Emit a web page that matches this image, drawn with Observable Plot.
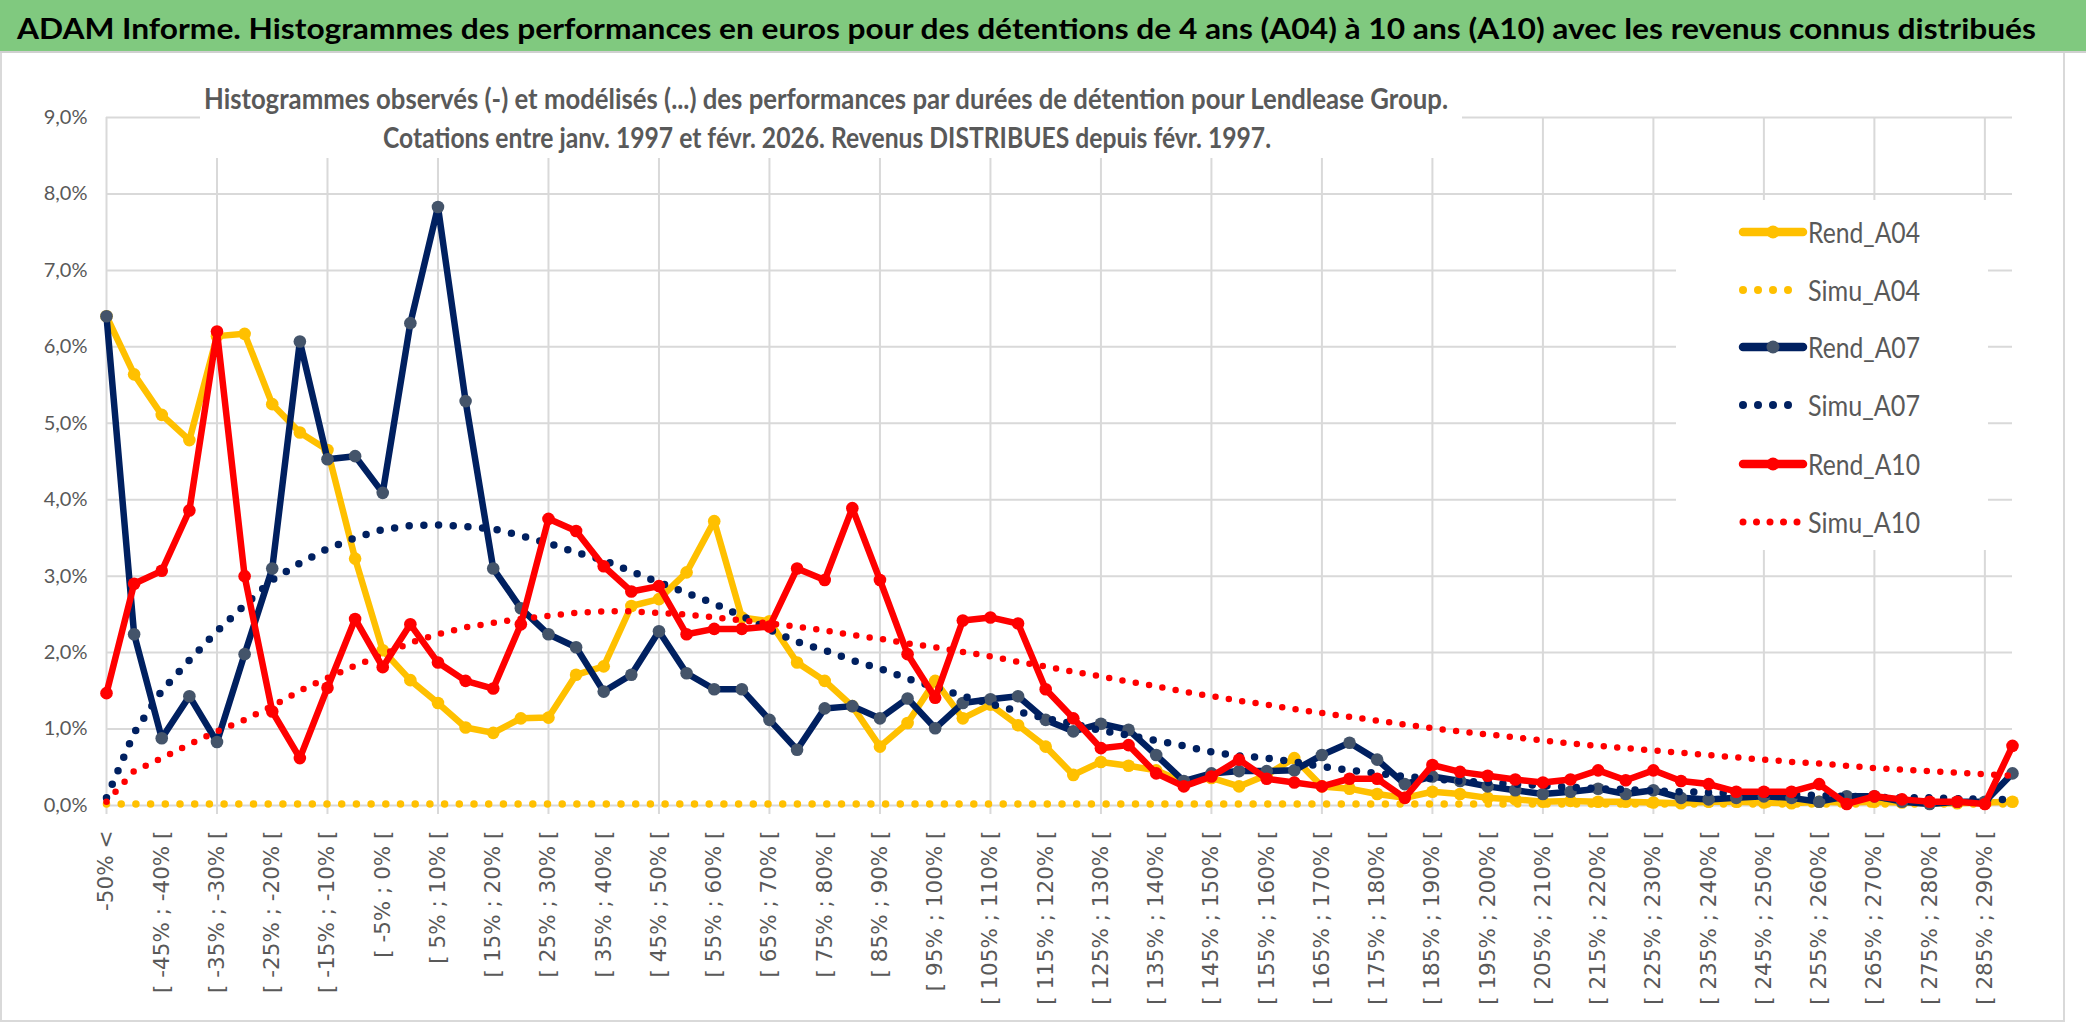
<!DOCTYPE html>
<html><head><meta charset="utf-8">
<script src="https://cdn.jsdelivr.net/npm/d3@7"></script>
<script src="https://cdn.jsdelivr.net/npm/@observablehq/plot@0.6"></script>
<style>
html,body{margin:0;padding:0;background:#fff;}
#wrap{position:relative;width:2086px;height:1031px;overflow:hidden;background:#fff;}
#wrap svg.plot{position:absolute;left:0;top:0;}
.box{position:absolute;background:#fff;}
</style></head>
<body><div id="wrap"></div>
<script>
const categories = ["-50% <","[ -50% ; -45% [","[ -45% ; -40% [","[ -40% ; -35% [","[ -35% ; -30% [","[ -30% ; -25% [","[ -25% ; -20% [","[ -20% ; -15% [","[ -15% ; -10% [","[ -10% ; -5% [",
"[ -5% ; 0% [","[ 0% ; 5% [","[ 5% ; 10% [","[ 10% ; 15% [","[ 15% ; 20% [","[ 20% ; 25% [","[ 25% ; 30% [","[ 30% ; 35% [","[ 35% ; 40% [","[ 40% ; 45% [",
"[ 45% ; 50% [","[ 50% ; 55% [","[ 55% ; 60% [","[ 60% ; 65% [","[ 65% ; 70% [","[ 70% ; 75% [","[ 75% ; 80% [","[ 80% ; 85% [","[ 85% ; 90% [","[ 90% ; 95% [",
"[ 95% ; 100% [","[ 100% ; 105% [","[ 105% ; 110% [","[ 110% ; 115% [","[ 115% ; 120% [","[ 120% ; 125% [","[ 125% ; 130% [","[ 130% ; 135% [","[ 135% ; 140% [","[ 140% ; 145% [",
"[ 145% ; 150% [","[ 150% ; 155% [","[ 155% ; 160% [","[ 160% ; 165% [","[ 165% ; 170% [","[ 170% ; 175% [","[ 175% ; 180% [","[ 180% ; 185% [","[ 185% ; 190% [","[ 190% ; 195% [",
"[ 195% ; 200% [","[ 200% ; 205% [","[ 205% ; 210% [","[ 210% ; 215% [","[ 215% ; 220% [","[ 220% ; 225% [","[ 225% ; 230% [","[ 230% ; 235% [","[ 235% ; 240% [","[ 240% ; 245% [",
"[ 245% ; 250% [","[ 250% ; 255% [","[ 255% ; 260% [","[ 260% ; 265% [","[ 265% ; 270% [","[ 270% ; 275% [","[ 275% ; 280% [","[ 280% ; 285% [","[ 285% ; 290% [","> 290%"];

const rendA04 = [6.40,5.64,5.11,4.78,6.14,6.17,5.25,4.88,4.65,3.23, 2.03,1.64,1.34,1.02,0.95,1.14,1.15,1.71,1.82,2.61,
 2.70,3.05,3.72,2.46,2.41,1.87,1.63,1.30,0.77,1.08, 1.63,1.14,1.32,1.05,0.77,0.40,0.57,0.52,0.46,0.30,
 0.36,0.25,0.40,0.62,0.25,0.22,0.15,0.10,0.18,0.15, 0.10,0.08,0.05,0.06,0.05,0.05,0.04,0.03,0.05,0.05,
 0.04,0.03,0.05,0.04,0.05,0.04,0.03,0.03,0.04,0.05];
const simuA04 = [0.02,0.02,0.02,0.02,0.02,0.02,0.02,0.02,0.02,0.02, 0.02,0.02,0.02,0.02,0.02,0.02,0.02,0.02,0.02,0.02,
 0.02,0.02,0.02,0.02,0.02,0.02,0.02,0.02,0.02,0.02, 0.02,0.02,0.02,0.02,0.02,0.02,0.02,0.02,0.02,0.02,
 0.02,0.02,0.02,0.02,0.02,0.02,0.02,0.02,0.02,0.02, 0.02,0.02,0.02,0.02,0.02,0.02,0.02,0.02,0.02,0.02,
 0.02,0.02,0.02,0.02,0.02,0.02,0.02,0.02,0.02,0.02];
const rendA07 = [6.40,2.24,0.88,1.43,0.83,1.98,3.10,6.07,4.53,4.57, 4.09,6.31,7.83,5.29,3.10,2.58,2.24,2.07,1.49,1.71,
 2.28,1.73,1.52,1.52,1.12,0.73,1.27,1.30,1.14,1.40, 1.01,1.34,1.39,1.43,1.12,0.97,1.07,0.99,0.66,0.32,
 0.42,0.45,0.45,0.46,0.66,0.82,0.60,0.28,0.38,0.32, 0.25,0.20,0.15,0.18,0.22,0.15,0.20,0.10,0.08,0.10,
 0.12,0.10,0.05,0.12,0.12,0.05,0.02,0.05,0.05,0.42];
const simuA07 = [0.10,0.95,1.50,1.90,2.28,2.62,2.95,3.17,3.36,3.50, 3.61,3.66,3.67,3.65,3.62,3.53,3.43,3.31,3.21,3.06,
 2.92,2.78,2.64,2.48,2.30,2.14,2.03,1.90,1.79,1.66, 1.55,1.43,1.33,1.23,1.14,1.07,0.98,0.92,0.85,0.78,
 0.70,0.65,0.62,0.57,0.51,0.46,0.42,0.38,0.35,0.32, 0.30,0.28,0.26,0.24,0.22,0.21,0.19,0.18,0.17,0.16,
 0.15,0.14,0.13,0.12,0.11,0.10,0.10,0.09,0.08,0.08];
const rendA10 = [1.47,2.90,3.07,3.86,6.20,3.00,1.23,0.62,1.54,2.44, 1.81,2.37,1.87,1.63,1.53,2.37,3.75,3.59,3.13,2.80,
 2.87,2.24,2.31,2.31,2.34,3.10,2.95,3.89,2.95,1.98, 1.41,2.42,2.46,2.38,1.52,1.14,0.75,0.79,0.42,0.25,
 0.38,0.60,0.35,0.30,0.25,0.35,0.35,0.10,0.53,0.44, 0.39,0.34,0.30,0.34,0.46,0.33,0.46,0.32,0.28,0.18,
 0.18,0.18,0.28,0.02,0.12,0.08,0.05,0.05,0.02,0.78];
const simuA10 = [0.05,0.45,0.62,0.80,0.97,1.12,1.30,1.50,1.67,1.83, 1.97,2.13,2.24,2.33,2.39,2.44,2.48,2.52,2.54,2.54,
 2.52,2.50,2.46,2.42,2.38,2.34,2.29,2.23,2.18,2.12, 2.07,2.01,1.95,1.88,1.82,1.75,1.69,1.62,1.56,1.49,
 1.43,1.37,1.32,1.26,1.21,1.16,1.11,1.06,1.01,0.97, 0.93,0.89,0.85,0.81,0.78,0.75,0.72,0.69,0.66,0.63,
 0.60,0.57,0.55,0.52,0.49,0.47,0.45,0.43,0.41,0.39];

const yTicks = [0,1,2,3,4,5,6,7,8,9];
const seriesNames = ["Rend_A04","Simu_A04","Rend_A07","Simu_A07","Rend_A10","Simu_A10"];
const titleText = "ADAM Informe. Histogrammes des performances en euros pour des détentions de 4 ans (A04) à 10 ans (A10) avec les revenus connus distribués";
const subtitle1 = "Histogrammes observés (-) et modélisés (...) des performances par durées de détention pour Lendlease Group.";
const subtitle2 = "Cotations entre janv. 1997 et févr. 2026. Revenus DISTRIBUES depuis févr. 1997.";

const YELLOW = "#FFC000", NAVY = "#002060", NAVYDOT = "#44546A", RED = "#FF0000";
const GRID = "#d9d9d9", TXT = "#595959";

const tidy = arr => categories.map((c, i) => ({cat: c, v: arr[i]}));
const gridCats = categories.filter((c, i) => i % 4 === 0);
const labelCats = categories.filter((c, i) => i % 2 === 0);
const fmtY = d => d.toFixed(1).replace(".", ",") + "%";

const solid = (arr, color, marker) => [
  Plot.line(tidy(arr), {x: "cat", y: "v", stroke: color, strokeWidth: 6.5, strokeLinejoin: "round", strokeLinecap: "round"}),
  Plot.dot(tidy(arr), {x: "cat", y: "v", r: 6.3, fill: marker, stroke: null})
];
const dotted = (arr, color, w, gap) =>
  Plot.line(tidy(arr), {x: "cat", y: "v", stroke: color, strokeWidth: w, strokeLinecap: "round", strokeDasharray: `0 ${gap}`});

const chart = Plot.plot({
  width: 2086, height: 1031,
  marginLeft: 106, marginRight: 74, marginTop: 117, marginBottom: 226,
  x: {type: "point", domain: categories, padding: 0},
  y: {domain: [0, 9]},
  style: {background: "transparent", fontFamily: "Lato", overflow: "visible"},
  marks: [
    Plot.gridY(yTicks, {stroke: GRID, strokeOpacity: 1, strokeWidth: 2}),
    Plot.gridX(gridCats, {stroke: GRID, strokeOpacity: 1, strokeWidth: 2}),
    Plot.axisX(gridCats, {tickSize: 9, stroke: GRID, strokeWidth: 2, fill: "none", label: null}),
    Plot.axisX(labelCats, {tickSize: 0, tickPadding: 25, tickRotate: -90, fontSize: 21.5, fontFamily: "DejaVu Sans", fill: TXT, label: null}),
    Plot.axisY(yTicks, {tickSize: 0, tickPadding: 19, tickFormat: fmtY, fontSize: 20, fontFamily: "Lato", fill: TXT, label: null}),
    ...solid(rendA04, YELLOW, YELLOW),
    dotted(simuA04, YELLOW, 7.5, 14.7),
    ...solid(rendA07, NAVY, NAVYDOT),
    dotted(simuA07, NAVY, 7.5, 14.7),
    ...solid(rendA10, RED, RED),
    dotted(simuA10, RED, 6.5, 13.5)
  ]
});
chart.classList.add("plot");
const wrap = document.getElementById("wrap");
wrap.appendChild(chart);

function addDiv(css) {
  const d = document.createElement("div");
  d.style.cssText = "position:absolute;" + css;
  wrap.appendChild(d);
  return d;
}
function addText(str, {left, cy, width, size, weight = 400, color = TXT, family = "Lato"}) {
  const el = addDiv(`white-space:nowrap;line-height:1;font-family:${family};font-size:${size}px;font-weight:${weight};color:${color};left:${left}px;top:${cy}px;transform-origin:0 0;`);
  el.textContent = str;
  const r = el.getBoundingClientRect();
  el.style.transform = `translateY(${-r.height / 2}px) scaleX(${width / r.width})`;
  return el;
}

// chart frame
addDiv("left:0;top:53px;width:2061px;height:967px;border:2px solid #d9d9d9;border-top:none;pointer-events:none;");
// title bar
addDiv("left:0;top:0;width:2086px;height:51px;background:#80c97f;border-bottom:2px solid #d0d0d0;");
addText(titleText, {left: 17, cy: 28, width: 2019, size: 28, weight: 700, color: "#000"});

// subtitle box
addDiv("left:200px;top:68px;width:1262px;height:90px;background:#fff;");
addText(subtitle1, {left: 204, cy: 97, width: 1244, size: 29, weight: 700});
addText(subtitle2, {left: 383, cy: 137, width: 888, size: 28, weight: 700});

// legend box
addDiv("left:1676px;top:200px;width:312px;height:350px;background:#fff;");
const legendY = [232, 290, 347, 405, 464, 522];
const legendStyle = [
  {kind: "solid", color: YELLOW, marker: YELLOW},
  {kind: "dot", color: YELLOW, w: 8, gap: 15, n: 4},
  {kind: "solid", color: NAVY, marker: NAVYDOT},
  {kind: "dot", color: NAVY, w: 8, gap: 15, n: 4},
  {kind: "solid", color: RED, marker: RED},
  {kind: "dot", color: RED, w: 7, gap: 13.5, n: 5}
];
seriesNames.forEach((name, k) => {
  const st = legendStyle[k], cy = legendY[k];
  const ns = "http://www.w3.org/2000/svg";
  const svg = document.createElementNS(ns, "svg");
  svg.setAttribute("width", 70); svg.setAttribute("height", 24);
  svg.style.cssText = `position:absolute;left:1738px;top:${cy - 12}px;`;
  if (st.kind === "solid") {
    const l = document.createElementNS(ns, "line");
    l.setAttribute("x1", 5); l.setAttribute("x2", 65); l.setAttribute("y1", 12); l.setAttribute("y2", 12);
    l.setAttribute("stroke", st.color); l.setAttribute("stroke-width", 8.5); l.setAttribute("stroke-linecap", "round");
    svg.appendChild(l);
    const c = document.createElementNS(ns, "circle");
    c.setAttribute("cx", 35); c.setAttribute("cy", 12); c.setAttribute("r", 6.5); c.setAttribute("fill", st.marker);
    svg.appendChild(c);
  } else {
    for (let j = 0; j < st.n; j++) {
      const c = document.createElementNS(ns, "circle");
      c.setAttribute("cx", 5 + j * st.gap); c.setAttribute("cy", 12); c.setAttribute("r", st.w / 2); c.setAttribute("fill", st.color);
      svg.appendChild(c);
    }
  }
  wrap.appendChild(svg);
  addText(name, {left: 1808, cy: cy, width: 112, size: 28});
});
</script>
</body></html>
